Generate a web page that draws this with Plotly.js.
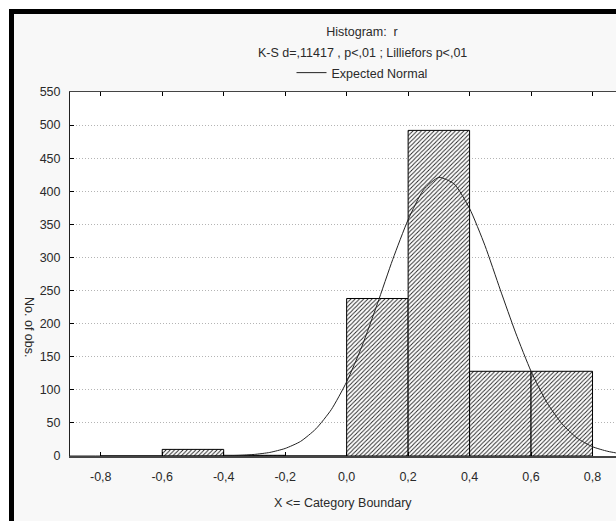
<!DOCTYPE html>
<html>
<head>
<meta charset="utf-8">
<script src="https://cdn.plot.ly/plotly-3.0.1.min.js"></script>
<style>
  html, body { margin: 0; padding: 0; background: #ffffff; overflow: hidden; width: 616px; height: 521px; }
  #frame { position: absolute; left: 9px; top: 9px; width: 720px; height: 600px;
           background: #f8f8f8; border-left: 5px solid #000; border-top: 5px solid #000; }
  #chart { position: absolute; left: 0; top: 0; width: 700px; height: 521px; }
</style>
</head>
<body>
<div id="frame"></div>
<div id="chart"></div>
<script>
// Histogram bins (upper category boundaries) and counts
const binCenters = [-0.7, -0.5, -0.3, -0.1, 0.1, 0.3, 0.5, 0.7];
const binCounts  = [0, 10, 1, 0, 238, 492, 128, 128];

// Expected normal curve, read along the x axis
const normalX = [-0.9, -0.5, -0.4, -0.35, -0.3, -0.25, -0.2, -0.15, -0.1, -0.05, 0, 0.05, 0.1, 0.15,
                 0.2, 0.25, 0.3, 0.35, 0.4, 0.45, 0.5, 0.55, 0.6, 0.65, 0.7, 0.75, 0.8, 0.85, 0.9, 0.95, 1.0];
const normalY = [0, 0, 0.4, 1, 2.4, 5.4, 11.4, 22, 41, 70, 112, 166, 230, 297,
                 357, 402, 421, 411, 374, 318, 251, 186, 128, 82, 49, 27, 14, 7, 3, 1.3, 0.5];

// Axis ticks
const xTickVals = [-0.8, -0.6, -0.4, -0.2, 0.0, 0.2, 0.4, 0.6, 0.8];
const xTickText = ['-0,8', '-0,6', '-0,4', '-0,2', '0,0', '0,2', '0,4', '0,6', '0,8'];
const yTickVals = [0, 50, 100, 150, 200, 250, 300, 350, 400, 450, 500, 550];

const FONT = 'Liberation Sans, Arial, sans-serif';
const TXT = '#2a2a2a';

const bars = {
  type: 'bar',
  x: binCenters,
  y: binCounts,
  width: 0.2,
  showlegend: false,
  hoverinfo: 'skip',
  marker: {
    color: '#ffffff',
    line: { color: '#000', width: 1 },
    pattern: { shape: '/', fgcolor: '#222', bgcolor: '#ffffff', size: 3, solidity: 0.3 }
  }
};

const curve = {
  type: 'scatter',
  mode: 'lines',
  x: normalX,
  y: normalY,
  name: 'Expected Normal',
  line: { color: '#222', width: 1, shape: 'spline', smoothing: 0.6 }
};

const layout = {
  width: 700,
  height: 521,
  margin: { l: 70, r: 46, t: 92, b: 65 },
  paper_bgcolor: 'rgba(0,0,0,0)',
  plot_bgcolor: '#ffffff',
  font: { family: FONT, size: 12.5, color: TXT },
  bargap: 0,
  title: {
    text: 'Histogram:  r',
    x: 0.5, xref: 'paper', xanchor: 'center',
    y: 1 - 32 / 521, yref: 'container', yanchor: 'middle',
    font: { family: FONT, size: 12.5, color: TXT }
  },
  showlegend: true,
  legend: {
    orientation: 'h',
    x: 0.5, xanchor: 'center',
    y: (456 - 73) / 364, yanchor: 'middle',
    bgcolor: 'rgba(0,0,0,0)',
    font: { family: FONT, size: 12.5, color: TXT },
    itemwidth: 30
  },
  xaxis: {
    range: [-0.9, 1.0],
    tickmode: 'array',
    tickvals: xTickVals,
    ticktext: xTickText,
    ticks: 'inside', ticklen: 4, tickcolor: '#000',
    showline: true, linecolor: '#444', linewidth: 1.5,
    mirror: 'ticks',
    showgrid: false, zeroline: false,
    ticklabelstandoff: 8,
    tickfont: { family: FONT, size: 12.5, color: TXT }
  },
  yaxis: {
    range: [0, 550],
    tickmode: 'array',
    tickvals: yTickVals,
    ticks: 'inside', ticklen: 4, tickcolor: '#000',
    showline: true, linecolor: '#222', linewidth: 1,
    mirror: 'ticks',
    showgrid: true, gridcolor: '#b4b4b4', gridwidth: 1, griddash: '1px,2px',
    zeroline: false,
    ticklabelstandoff: 6,
    tickfont: { family: FONT, size: 12.5, color: TXT }
  },
  annotations: [
    {
      text: 'K-S d=,11417 , p<,01 ; Lilliefors p<,01',
      xref: 'paper', yref: 'paper', x: 0.5, y: (456 - 53) / 364,
      xanchor: 'center', yanchor: 'middle', showarrow: false,
      font: { family: FONT, size: 12.5, color: TXT }
    },
    {
      text: 'X <= Category Boundary',
      xref: 'paper', yref: 'paper', x: (343 - 70) / 584, y: (456 - 503) / 364,
      xanchor: 'center', yanchor: 'middle', showarrow: false,
      font: { family: FONT, size: 12.5, color: TXT }
    },
    {
      text: 'No. of obs.',
      textangle: 90,
      xref: 'paper', yref: 'paper', x: (29 - 70) / 584, y: (456 - 327) / 364,
      xanchor: 'center', yanchor: 'middle', showarrow: false,
      font: { family: FONT, size: 12.5, color: TXT }
    }
  ]
};

Plotly.newPlot('chart', [bars, curve], layout, { staticPlot: true, displayModeBar: false });
</script>
</body>
</html>
